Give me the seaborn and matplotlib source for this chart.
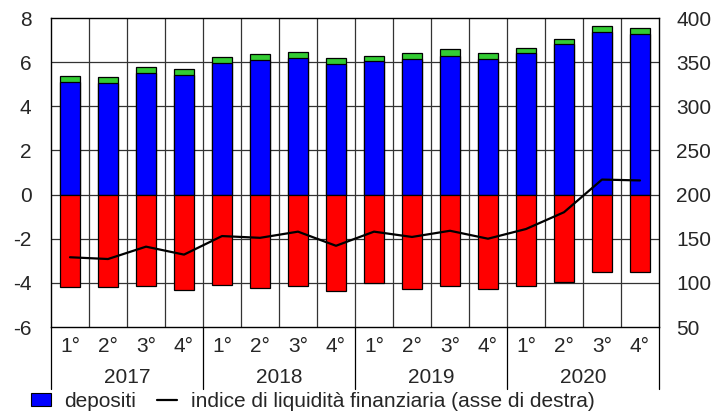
import numpy as np
import pandas as pd
import matplotlib
matplotlib.use("Agg")
import matplotlib.pyplot as plt
import matplotlib.transforms as mtransforms
from matplotlib.patches import Patch
from matplotlib.lines import Line2D
import seaborn as sns

# dati (trimestri 2017-2020)
anni = ["2017", "2018", "2019", "2020"]
trimestri = ["1°", "2°", "3°", "4°"]
depositi = [5.09, 5.05, 5.53, 5.41, 5.98, 6.11, 6.21, 5.92,
            6.03, 6.15, 6.30, 6.15, 6.42, 6.80, 7.36, 7.29]
altro = [0.27, 0.27, 0.27, 0.27, 0.26, 0.25, 0.27, 0.26,
         0.27, 0.27, 0.28, 0.26, 0.22, 0.26, 0.28, 0.27]
negativi = [-4.17, -4.20, -4.14, -4.33, -4.09, -4.23, -4.12, -4.36,
            -4.00, -4.26, -4.15, -4.29, -4.12, -3.94, -3.52, -3.52]
indice = [129, 127, 141, 132, 153, 151, 158, 142,
          158, 152, 159, 150, 161, 180, 217, 216]

n = len(depositi)
df = pd.DataFrame({
    "pos": [str(i) for i in range(n)],
    "depositi": depositi,
    "totale": np.array(depositi) + np.array(altro),
    "negativi": negativi,
})

sns.set_theme(style="white")
plt.rcParams["font.family"] = ["Liberation Sans", "DejaVu Sans"]
plt.rcParams["axes.unicode_minus"] = False
fs = 15

fig = plt.figure(figsize=(7.14, 4.11), dpi=100)
ax = fig.add_axes([51 / 714, 1 - 327 / 411, 608 / 714, 309 / 411])

ordine = df["pos"].tolist()
w = 0.55
sns.barplot(data=df, x="pos", y="totale", order=ordine, color="#33cc33",
            edgecolor="black", linewidth=0.9, width=w, saturation=1, ax=ax, zorder=3)
sns.barplot(data=df, x="pos", y="depositi", order=ordine, color="#0000ff",
            edgecolor="black", linewidth=0.9, width=w, saturation=1, ax=ax, zorder=3)
sns.barplot(data=df, x="pos", y="negativi", order=ordine, color="#ff0000",
            edgecolor="black", linewidth=0.9, width=w, saturation=1, ax=ax, zorder=3)

ax.set_xlim(-0.5, n - 0.5)
ax.set_ylim(-6, 8)
ax.set_yticks(range(-6, 9, 2))
ax.set_xlabel("")
ax.set_ylabel("")
ax.set_xticks(range(n))
ax.set_xticklabels(trimestri * len(anni))
ax.tick_params(axis="both", length=0, labelsize=fs)
ax.tick_params(axis="x", pad=7)
ax.tick_params(axis="y", pad=14)

# griglia
for k in range(1, n):
    ax.axvline(k - 0.5, color="#333333", lw=0.9, zorder=1)
for v in range(-4, 8, 2):
    ax.axhline(v, color="#333333", lw=0.9, zorder=1)
for s in ax.spines.values():
    s.set_color("black")
    s.set_linewidth(1.0)

# anni e separatori sotto l'asse
trans = mtransforms.blended_transform_factory(ax.transData, ax.transAxes)
for i, anno in enumerate(anni):
    ax.text(i * 4 + 1.5, -0.163, anno, transform=trans, ha="center", va="center", fontsize=fs)
for k in range(len(anni) + 1):
    ax.add_line(Line2D([k * 4 - 0.5, k * 4 - 0.5], [0, -0.2], transform=trans,
                       color="black", lw=0.9, clip_on=False))

ax2 = ax.twinx()
sns.lineplot(x=np.arange(n), y=indice, color="black", lw=1.6, ax=ax2)
ax2.set_ylim(50, 400)
ax2.set_yticks(range(50, 401, 50))
ax2.tick_params(axis="y", length=0, labelsize=fs, pad=12.5)
for s in ax2.spines.values():
    s.set_visible(False)
ax2.set_xlim(-0.5, n - 0.5)

handles = [Patch(facecolor="#0000ff", edgecolor="black", linewidth=0.8),
           Line2D([], [], color="black", lw=1.6)]
fig.legend(handles, ["depositi", "indice di liquidità finanziaria (asse di destra)"],
           loc="lower left", bbox_to_anchor=(0.032, -0.02), ncol=2, frameon=False,
           fontsize=fs, handlelength=0.95, handleheight=0.6, handletextpad=0.65,
           columnspacing=1.0, borderaxespad=0)

fig.savefig("out.png", dpi=100)
